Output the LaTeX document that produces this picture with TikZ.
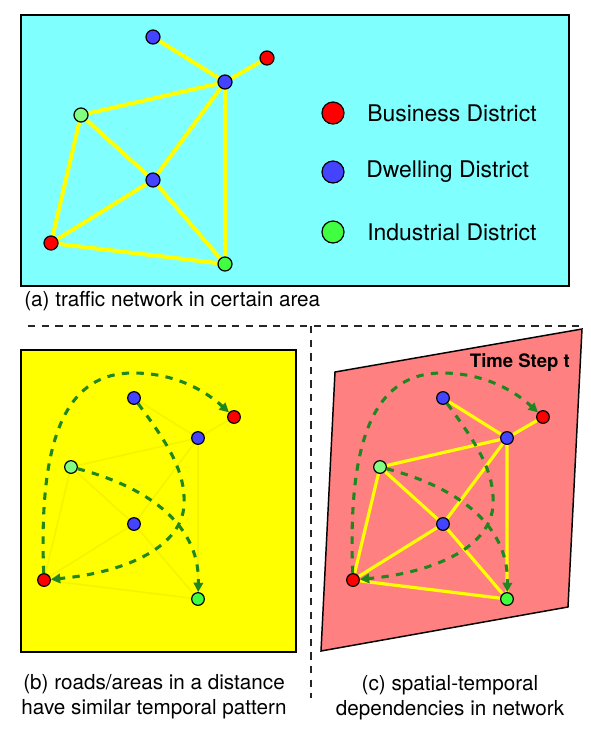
\documentclass[tikz,border=0pt]{standalone}
\usepackage{fontspec}
\setmainfont{TeX Gyre Heros}
\usetikzlibrary{arrows.meta}

\definecolor{aqua}{RGB}{128,255,255}
\definecolor{roadyellow}{RGB}{255,255,0}
\definecolor{fadedroad}{RGB}{244,244,0}
\definecolor{salmon}{RGB}{255,128,128}
\definecolor{bizred}{RGB}{255,0,0}
\definecolor{dwellblue}{RGB}{68,68,255}
\definecolor{indgreen}{RGB}{64,255,64}
\definecolor{indlight}{RGB}{128,255,128}
\definecolor{flowgreen}{RGB}{30,135,30}

\pgfdeclarelayer{back}
\pgfdeclarelayer{links}
\pgfsetlayers{back,links,main}

\tikzset{
  site/.style={circle, draw=black, line width=0.9pt, inner sep=0pt, minimum size=9.5pt},
  bigsite/.style={minimum size=10.5pt},
  biz/.style={site, fill=bizred},
  dwell/.style={site, fill=dwellblue},
  ind/.style={site, fill=indgreen},
  indpale/.style={site, fill=indlight},
  road/.style={draw=roadyellow, line width=3pt},
  thinroad/.style={draw=roadyellow, line width=2.4pt},
  fadedlink/.style={draw=fadedroad, line width=1.2pt},
  flow/.style={draw=flowgreen, line width=2.3pt, dash pattern=on 5.5pt off 5.5pt,
    -{Triangle[length=7pt,width=7pt]}},
  panel/.style={draw=black, line width=1.4pt},
  divider/.style={draw=black!85, line width=1.1pt, dash pattern=on 5.6pt off 4.6pt},
  caption/.style={font=\fontsize{15.5}{18.8}\selectfont, align=center, inner sep=0pt},
  legendtext/.style={font=\fontsize{17.2}{20}\selectfont, anchor=west, inner sep=0pt}
}

% road links between the seven districts of a network
\newcommand\roadlinks[1]{%
  \draw[#1] (B1) -- (B2) (B2) -- (R1) (B2) -- (G1) (B2) -- (B3) (B2) -- (G2)
            (G1) -- (B3) (G1) -- (R2) (B3) -- (R2) (R2) -- (G2) (B3) -- (G2);}

% districts of the smaller networks (panels b and c)
\newcommand\smallsites{%
  \node[dwell]   (B1) at (134,398) {};
  \node[biz]     (R1) at (234,417) {};
  \node[dwell]   (B2) at (198,438) {};
  \node[indpale] (G1) at (71,467) {};
  \node[dwell]   (B3) at (134,524) {};
  \node[biz]     (R2) at (44,580) {};
  \node[ind]     (G2) at (198,599) {};}

% far-apart districts sharing a temporal pattern
\newcommand\flowarrows{%
  \draw[flow] (R2) .. controls (38,430) and (70,373) .. (133,373)
                   .. controls (180,373) and (210,395) .. (R1);
  \draw[flow] (B1) .. controls (165,440) and (186,470) .. (184,505)
                   .. controls (182,545) and (130,572) .. (R2);
  \draw[flow] (G1) .. controls (140,485) and (200,520) .. (G2);}

\begin{document}
\begin{tikzpicture}[x=0.75pt, y=-0.75pt]
  \useasboundingbox (0,0) rectangle (591,733);

  % ---------- panels ----------
  \begin{pgfonlayer}{back}
    \path[panel, fill=aqua] (21,15) rectangle (569,286);
    \path[panel, fill=roadyellow] (21,350) rectangle (296,652);
    \path[panel, line width=1.1pt, fill=salmon]
      (335,372) -- (582,329) -- (568,607) -- (321,651) -- cycle;
  \end{pgfonlayer}

  % ---------- (a) traffic network ----------
  \begin{scope}[name prefix=a-]
    \node[dwell, bigsite]   (B1) at (153,37) {};
    \node[biz, bigsite]     (R1) at (267,58) {};
    \node[dwell, bigsite]   (B2) at (225,82) {};
    \node[indpale, bigsite] (G1) at (81,115) {};
    \node[dwell, bigsite]   (B3) at (153,180) {};
    \node[biz, bigsite]     (R2) at (51,243) {};
    \node[ind, bigsite]     (G2) at (225,264) {};
    \begin{pgfonlayer}{links}
      \roadlinks{road}
    \end{pgfonlayer}
  \end{scope}

  % legend
  \node[biz,   minimum size=16.5pt] (keybiz)   at (333,113) {};
  \node[dwell, minimum size=16.5pt] (keydwell) at (333,172) {};
  \node[ind,   minimum size=16.5pt] (keyind)   at (333,232) {};
  \node[legendtext] (lbiz)   at (367,113) {Business District};
  \node[legendtext] (ldwell) at (366,172) {Dwelling District};
  \node[legendtext] (lind)   at (367,232) {Industrial District};

  \node[caption, anchor=west] (capa) at (24,301) {(a) traffic network in certain area};

  % ---------- dividers ----------
  \draw[divider] (28,326) -- (583,326);
  \draw[divider] (311,326) -- (311,698);

  % ---------- (b) temporal similarity ----------
  \begin{scope}[name prefix=b-]
    \smallsites
    \begin{pgfonlayer}{links}
      \roadlinks{fadedlink}
    \end{pgfonlayer}
    \flowarrows
  \end{scope}

  \node[caption] (capb) at (154,697)
    {(b) roads/areas in a distance\\have similar temporal pattern};

  % ---------- (c) spatial-temporal dependencies ----------
  \begin{scope}[shift={(309,0)}, name prefix=c-]
    \smallsites
    \begin{pgfonlayer}{links}
      \roadlinks{thinroad}
    \end{pgfonlayer}
    \flowarrows
  \end{scope}

  \node[font=\bfseries\fontsize{13.9}{16}\selectfont, anchor=east, inner sep=0pt]
    (tstep) at (570,363) {Time Step t};

  \node[caption] (capc) at (450,698)
    {(c) spatial-temporal\\dependencies in network};
\end{tikzpicture}
\end{document}
